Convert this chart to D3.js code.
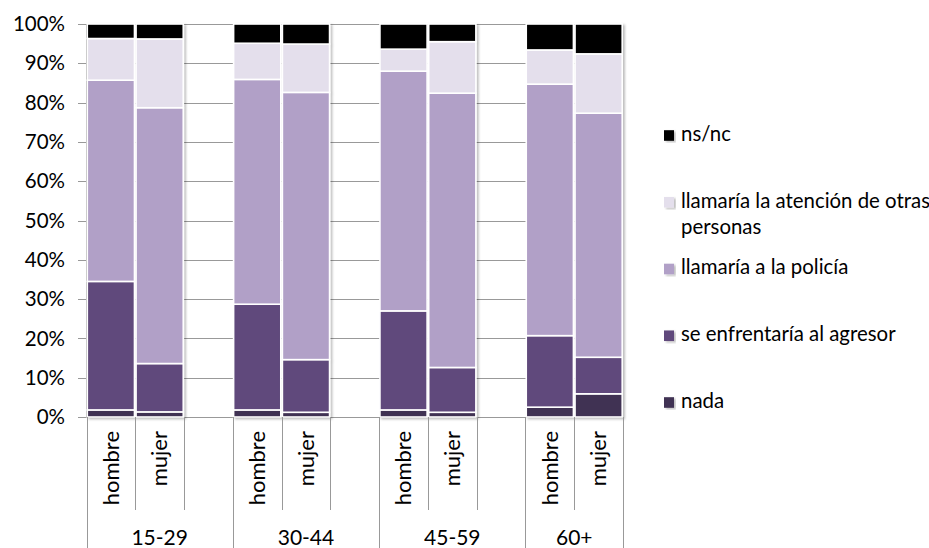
<!DOCTYPE html>
<html>
<head>
<meta charset="utf-8">
<script src="https://cdn.jsdelivr.net/npm/d3@7"></script>
<style>
  html, body { margin: 0; padding: 0; background: #fff; }
  svg { display: block; }
  text { font-family: Lato, "Open Sans", sans-serif; fill: #000; }
</style>
</head>
<body>
<svg id="chart" width="929" height="548"></svg>
<script>
// ---- data ----
const groups = ["15-29", "30-44", "45-59", "60+"];
const sexes = ["hombre", "mujer"];
const seriesNames = ["nada", "se enfrentaría al agresor", "llamaría a la policía",
                     "llamaría la atención de otras personas", "ns/nc"];
const seriesColors = ["#403152", "#604A7B", "#B1A0C7", "#E4DFEC", "#000000"];
// order: 15-29 h, 15-29 m, 30-44 h, 30-44 m, 45-59 h, 45-59 m, 60+ h, 60+ m
const nada       = [1.8, 1.3, 1.8, 1.2, 1.8, 1.2, 2.5, 5.9];
const seEnfrenta = [32.7, 12.3, 26.9, 13.4, 25.2, 11.4, 18.2, 9.3];
const policia    = [51.2, 65.1, 57.2, 68.0, 61.0, 69.8, 64.0, 62.1];
const atencion   = [10.6, 17.5, 9.2, 12.3, 5.6, 13.1, 8.7, 15.1];
const nsnc       = [3.7, 3.8, 4.9, 5.1, 6.4, 4.5, 6.6, 7.6];
const yTicks = [0, 0.1, 0.2, 0.3, 0.4, 0.5, 0.6, 0.7, 0.8, 0.9, 1.0];

const seriesValues = [nada, seEnfrenta, policia, atencion, nsnc];

// ---- layout ----
const svg = d3.select("#chart");
const plot = { left: 86.5, right: 623, top: 24, bottom: 417 };

// slots: hombre, mujer, (blank) per group, last group without blank
const slots = [];
groups.forEach((g, gi) => {
  sexes.forEach(s => slots.push({ key: g + "|" + s, group: g, sex: s }));
  if (gi < groups.length - 1) slots.push({ key: g + "|_", group: g, sex: null });
});

const x = d3.scaleBand().domain(slots.map(d => d.key)).range([plot.left, plot.right]).padding(0);
const y = d3.scaleLinear().domain([0, 1]).range([plot.bottom, plot.top]);

// rows
const rows = [];
groups.forEach((g, gi) => sexes.forEach((s, si) => {
  const idx = gi * 2 + si;
  const row = { key: g + "|" + s };
  seriesNames.forEach((n, k) => row[n] = seriesValues[k][idx] / 100);
  rows.push(row);
}));
const stacked = d3.stack().keys(seriesNames)(rows);

// defs: shadow
const defs = svg.append("defs");
const f = defs.append("filter").attr("id", "shadow").attr("x", "-10%").attr("y", "-10%")
  .attr("width", "130%").attr("height", "130%");
f.append("feDropShadow").attr("dx", 2).attr("dy", 1.5).attr("stdDeviation", 1.2)
  .attr("flood-color", "#000").attr("flood-opacity", 0.25);

// gridlines
const grid = svg.append("g");
grid.selectAll("line").data(yTicks).join("line")
  .attr("x1", plot.left - 8.5).attr("x2", plot.right)
  .attr("y1", d => Math.round(y(d)) + 0.5).attr("y2", d => Math.round(y(d)) + 0.5)
  .attr("stroke", "#999").attr("stroke-width", 1);

// y-axis line
svg.append("line").attr("x1", plot.left).attr("x2", plot.left)
  .attr("y1", plot.top).attr("y2", plot.bottom + 0.5)
  .attr("stroke", "#999");

// y labels
svg.append("g").selectAll("text").data(yTicks).join("text")
  .attr("x", 65).attr("y", d => y(d)).attr("dy", "0.35em")
  .attr("text-anchor", "end").style("font-size", "20.5px")
  .text(d3.format(".0%"));

// bars
const barG = svg.append("g").attr("filter", "url(#shadow)");
stacked.forEach((layer, k) => {
  barG.append("g").selectAll("rect").data(layer).join("rect")
    .attr("x", d => x(d.data.key) + 0.8)
    .attr("width", x.bandwidth() - 1.6)
    .attr("y", d => y(d[1]))
    .attr("height", d => y(d[0]) - y(d[1]))
    .attr("fill", seriesColors[k])
    .attr("stroke", "#fff").attr("stroke-width", 1.6);
});

// category axis separators
const axisG = svg.append("g");
const bounds = slots.map((s, i) => ({ x: x(s.key), i }));
bounds.push({ x: plot.right, i: slots.length });
const groupStartIdx = new Set();
let acc = 0;
groups.forEach((g, gi) => { groupStartIdx.add(acc); acc += (gi < groups.length - 1 ? 3 : 2); });
groupStartIdx.add(slots.length);
axisG.selectAll("line").data(bounds).join("line")
  .attr("x1", d => Math.round(d.x) + 0.5).attr("x2", d => Math.round(d.x) + 0.5)
  .attr("y1", plot.bottom)
  .attr("y2", d => groupStartIdx.has(d.i) ? 548 : 510)
  .attr("stroke", "#999");

// sex labels (rotated)
axisG.selectAll("text.sex").data(slots.filter(s => s.sex)).join("text")
  .attr("class", "sex")
  .attr("transform", d => `translate(${x(d.key) + x.bandwidth() / 2},${plot.bottom + 14}) rotate(-90)`)
  .attr("text-anchor", "end").attr("dy", "0.35em")
  .style("font-size", "22px")
  .text(d => d.sex);

// group labels
groups.forEach((g) => {
  const gSlots = slots.filter(s => s.group === g);
  const firstX = x(gSlots[0].key);
  const lastX = x(gSlots[gSlots.length - 1].key) + x.bandwidth();
  axisG.append("text")
    .attr("x", (firstX + lastX) / 2).attr("y", 545)
    .attr("text-anchor", "middle").style("font-size", "21px")
    .text(g);
});

// legend (top = ns/nc)
const legendOrder = seriesNames.map((n, k) => ({ n, c: seriesColors[k] })).reverse();
const lg = svg.append("g");
legendOrder.forEach((d, i) => {
  const cy = 135.5 + i * 66.75;
  lg.append("rect").attr("x", 664).attr("y", cy - 5.3).attr("width", 10).attr("height", 10.6)
    .attr("fill", d.c).attr("filter", "url(#shadow)");
  const t = lg.append("text").attr("x", 681).attr("y", cy + 5.3).style("font-size", "20.4px");
  if (d.n === "llamaría la atención de otras personas") {
    t.append("tspan").attr("x", 681).text("llamaría la atención de otras");
    t.append("tspan").attr("x", 681).attr("dy", 26).text("personas");
  } else {
    t.text(d.n);
  }
});
</script>
</body>
</html>
